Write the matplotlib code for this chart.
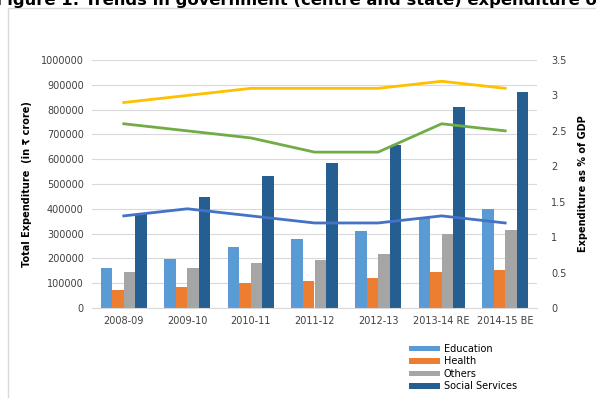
import matplotlib
matplotlib.use("Agg")
import matplotlib.pyplot as plt
import numpy as np
from matplotlib.patches import Rectangle

years = ["2008-09", "2009-10", "2010-11", "2011-12", "2012-13", "2013-14 RE", "2014-15 BE"]

# bars: total expenditure (Rs crore)
education = [161000, 196000, 246000, 278000, 312000, 363000, 399000]
health = [74000, 85000, 102000, 110000, 121000, 145000, 153000]
others = [145000, 160000, 183000, 195000, 219000, 298000, 316000]
social = [380000, 446000, 531000, 583000, 656000, 812000, 870000]

# lines: expenditure as % of GDP
pct_social = [2.9, 3.0, 3.1, 3.1, 3.1, 3.2, 3.1]
pct_others = [2.6, 2.5, 2.4, 2.2, 2.2, 2.6, 2.5]
pct_edu = [1.3, 1.4, 1.3, 1.2, 1.2, 1.3, 1.2]

left_ticks = list(range(0, 1000001, 100000))
right_ticks = ["0", "0.5", "1", "1.5", "2", "2.5", "3", "3.5"]

fig = plt.figure(figsize=(5.96, 3.98), dpi=100)

# outer chart border
fig.patches.append(Rectangle((8 / 596, -0.05), 1.1, 1 - 8 / 398 + 0.05,
                             transform=fig.transFigure, fill=False,
                             edgecolor="#d9d9d9", linewidth=1))

# title is cropped at the top edge in the source figure
fig.text(-0.006, 1 - 5 / 398, "Figure 1: Trends in government (centre and state) expenditure on",
         fontsize=11.8, fontweight="bold", ha="left", va="baseline")

ax = fig.add_axes([92 / 596, 1 - 308 / 398, 445 / 596, 248 / 398])
x = np.arange(len(years))
w = 0.182
cols = ["#5b9bd5", "#ed7d31", "#a5a5a5", "#255e91"]
names = ["Education", "Health", "Others", "Social Services"]
for i, (vals, c, n) in enumerate(zip([education, health, others, social], cols, names)):
    ax.bar(x + (i - 1.5) * w, vals, w, color=c, label=n, zorder=2)

ax.set_xlim(-0.5, len(years) - 0.5)
ax.set_ylim(0, 1000000)
ax.set_yticks(left_ticks)
ax.set_yticklabels([str(t) for t in left_ticks])
ax.set_xticks(x)
ax.set_xticklabels(years)
ax.grid(axis="y", color="#d9d9d9", linewidth=0.8, zorder=0)
for s in ["top", "right", "left"]:
    ax.spines[s].set_visible(False)
ax.spines["bottom"].set_color("#d9d9d9")
ax.tick_params(length=0, labelsize=7, colors="#404040", pad=6)
ax.set_ylabel("Total Expenditure  (in \u20b9 crore)", fontsize=7, fontweight="bold", labelpad=6)

ax2 = ax.twinx()
ax2.plot(x, pct_social, color="#ffc000", linewidth=2, zorder=3)
ax2.plot(x, pct_others, color="#70ad47", linewidth=2, zorder=3)
ax2.plot(x, pct_edu, color="#4472c4", linewidth=2, zorder=3)
ax2.set_ylim(0, 3.5)
ax2.set_yticks([float(t) for t in right_ticks])
ax2.set_yticklabels(right_ticks)
for s in ax2.spines.values():
    s.set_visible(False)
ax2.tick_params(length=0, labelsize=7, colors="#404040", pad=10)
ax2.set_ylabel("Expenditure as % of GDP", fontsize=7, fontweight="bold", labelpad=8)

fig.legend(*ax.get_legend_handles_labels(), loc="upper left",
           bbox_to_anchor=(405 / 596, 1 - 340 / 398), frameon=False,
           fontsize=7, handlelength=3.2, handleheight=0.5, labelspacing=0.25,
           handletextpad=0.4, borderaxespad=0)

fig.savefig("out.png", dpi=100)
